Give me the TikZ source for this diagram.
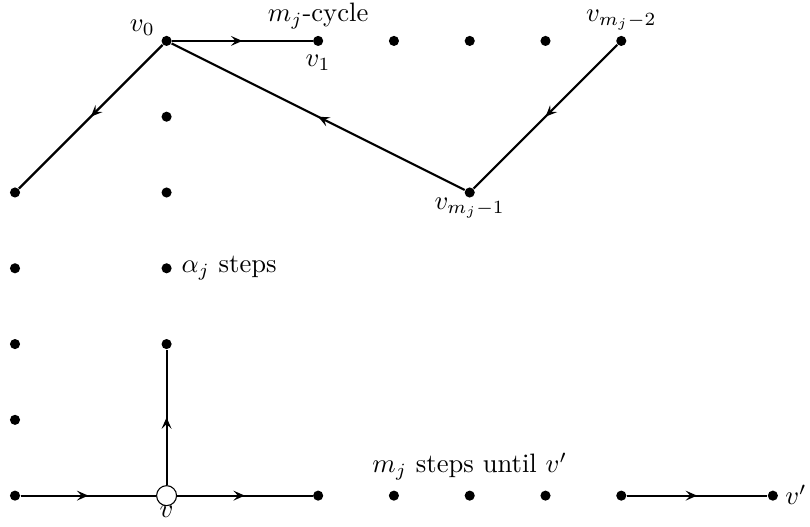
\documentclass[tikz,border=0pt]{standalone}
\usetikzlibrary{arrows.meta,positioning,decorations.markings}
\tikzset{dot/.style={circle,fill=black,inner sep=0pt,minimum size=3.8pt}, hollow/.style={circle,draw=black,fill=white,thin,inner sep=0pt,minimum size=7.5pt}, flow/.style={thick,postaction={decorate},decoration={markings,mark=at position 0.5 with {\arrow{Stealth[length=1.5mm,width=1.3mm,inset=0.6mm]}}}}}
\begin{document}
\begin{tikzpicture}
\useasboundingbox (-0.198,-0.41) rectangle (10.49,6.54);
% grid points
\foreach \y in {0,...,4} \node[dot] (l\y) at (0,\y) {};
\foreach \y in {2,...,5} \node[dot] (c\y) at (2,\y) {};
\foreach \x in {4,...,8} \node[dot] (t\x) at (\x,6) {};
\foreach \x in {4,...,8} \node[dot] (b\x) at (\x,0) {};
\node[dot] (v0) at (2,6) {};
\node[dot] (vm) at (6,4) {};
\node[dot] (vp) at (10,0) {};
\node[hollow] (v) at (2,0) {};
% labels
\node[anchor=base] (lv0) at (1.68,6.12) {$v_0$};
\node[anchor=base] (lcyc) at (4,6.25) {$m_j$-cycle};
\node[anchor=base] (lv1) at (4,5.66) {$v_1$};
\node[anchor=base] (lvm2) at (8,6.26) {$v_{m_j-2}$};
\node[anchor=base] (lvm1) at (6,3.78) {$v_{m_j-1}$};
\node[right=0pt of c3] (lalpha) {$\alpha_j$ steps};
\node[anchor=base] (lv) at (2,-0.29) {$v$};
\node[anchor=base] (lsteps) at (6,0.30) {$m_j$ steps until $v'$};
\node[anchor=base west] (lvp) at (10.04,-0.12) {$v'$};
% connectors
\draw[flow] (v0)--(t4);
\draw[flow] (v0)--(l4);
\draw[flow] (vm)--(v0);
\draw[flow] (t8)--(vm);
\draw[flow] (l0)--(v);
\draw[flow] (v)--(b4);
\draw[flow] (v)--(c2);
\draw[flow] (b8)--(vp);
\end{tikzpicture}
\end{document}
